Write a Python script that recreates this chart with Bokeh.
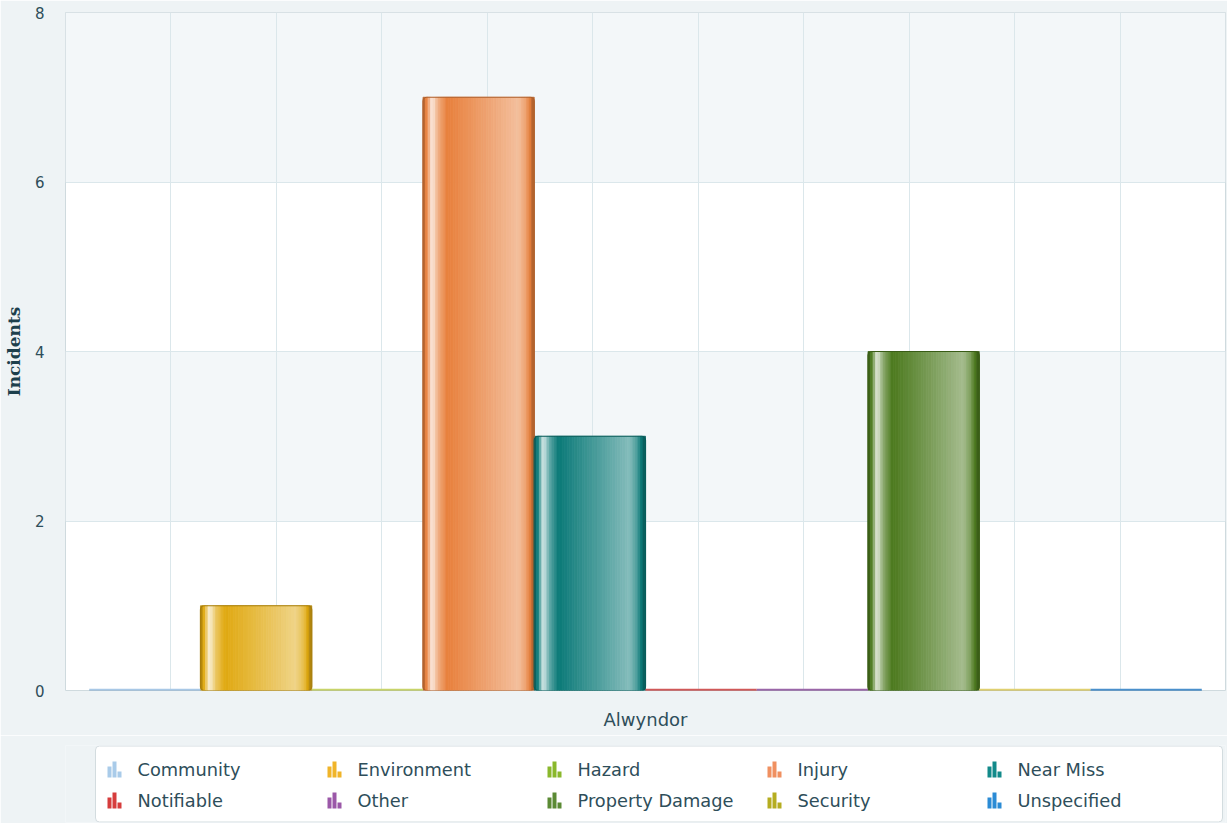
from bokeh.plotting import figure
from bokeh.models import Range1d, FixedTicker, ColumnDataSource
from bokeh.layouts import column
from bokeh.core.properties import value
from bokeh.embed import file_html
from bokeh.resources import INLINE

# ---- data ----
site = "Alwyndor"
categories = ["Community", "Environment", "Hazard", "Injury", "Near Miss",
              "Notifiable", "Other", "Property Damage", "Security", "Unspecified"]
incidents = [0, 1, 0, 7, 3, 0, 0, 4, 0, 0]
bar_colors = ["#a8c8e6", "#e0a911", "#c8d46a", "#e8803c", "#0b7a78",
              "#d05858", "#9a66a8", "#4c7a1e", "#e0d070", "#4a90cc"]
icon_colors = ["#a9cbe9", "#f0b429", "#8ab82c", "#f09060", "#128a8a",
               "#d63c3c", "#9b58a8", "#5b8a34", "#b5ad20", "#2b8bd5"]
y_ticks = [0, 2, 4, 6, 8]
y_title = "Incidents"

PAGE_BG = "#eef3f5"
TXT = "#2e4e5a"

def hex2rgb(h):
    h = h.lstrip("#")
    return tuple(int(h[i:i + 2], 16) for i in (0, 2, 4))

def rgb2hex(c):
    return "#%02x%02x%02x" % tuple(max(0, min(255, int(round(v)))) for v in c)

def shade(h, m):
    r = hex2rgb(h)
    if m >= 0:
        return rgb2hex([v + (255 - v) * m for v in r])
    return rgb2hex([v * (1 + m) for v in r])

profile = [(0.0, -0.3), (0.04, 0.1), (0.085, 0.85), (0.14, 0.35), (0.22, 0.0),
           (0.55, 0.25), (0.86, 0.5), (0.93, 0.25), (1.0, -0.3)]

def prof(t):
    for (t0, m0), (t1, m1) in zip(profile[:-1], profile[1:]):
        if t0 <= t <= t1:
            return m0 + (m1 - m0) * (t - t0) / (t1 - t0)
    return profile[-1][1]

# ---- main chart ----
p = figure(width=1227, height=735, output_backend="svg", toolbar_location=None,
           x_range=Range1d(0, 11), y_range=Range1d(0, 8),
           min_border_left=0, min_border_right=2, min_border_top=12, min_border_bottom=45)
p.border_fill_color = PAGE_BG
p.background_fill_color = "white"
p.outline_line_color = "#cfdade"

n = len(categories)
bw = 1.055
centers = [5.5 + (i - (n - 1) / 2) * bw for i in range(n)]

# cylinder-like shading strips
N = 44
L, R, T, B, C = [], [], [], [], []
for i, v in enumerate(incidents):
    if v <= 0:
        continue
    left = centers[i] - bw / 2
    for k in range(N):
        t = (k + 0.5) / N
        L.append(left + bw * k / N)
        R.append(left + bw * (k + 1) / N)
        T.append(v)
        B.append(0)
        C.append(shade(bar_colors[i], prof(t)))
p.quad(left=L, right=R, top=T, bottom=B, fill_color=C, line_color=C, line_width=0.8)

src = ColumnDataSource(dict(x=centers, top=incidents,
                            line=[shade(c, -0.25) for c in bar_colors]))
p.vbar(x="x", top="top", width=bw, source=src, fill_color=None,
       line_color="line", line_width=1.2, border_radius=4)
zero = ColumnDataSource(dict(x=[c for c, v in zip(centers, incidents) if v == 0],
                             col=[bc for bc, v in zip(bar_colors, incidents) if v == 0]))
p.vbar(x="x", top=0, width=bw, source=zero, fill_color=None, line_color="col",
       line_width=3.5)

p.xaxis.ticker = FixedTicker(ticks=[5.5])
p.xaxis.major_label_overrides = {5.5: site}
p.yaxis.ticker = FixedTicker(ticks=y_ticks)
p.xgrid.ticker = FixedTicker(ticks=list(range(12)))
p.ygrid.ticker = FixedTicker(ticks=y_ticks)
p.grid.grid_line_color = "#dbe7eb"
p.ygrid.band_fill_color = "#f3f7f9"
p.ygrid.band_fill_alpha = 1
p.ygrid.level = "image"

for ax in (p.xaxis, p.yaxis):
    ax.major_tick_out = 0
    ax.major_tick_in = 0
    ax.minor_tick_out = 0
    ax.minor_tick_in = 0
    ax.axis_line_color = None
    ax.major_label_text_font = "DejaVu Sans"
    ax.major_label_text_color = TXT
p.yaxis.major_label_text_font_size = "15px"
p.yaxis.major_label_standoff = 21
p.xaxis.major_label_text_font_size = "18px"
p.xaxis.major_label_standoff = 18
p.yaxis.axis_label = y_title
p.yaxis.axis_label_text_font = "DejaVu Serif"
p.yaxis.axis_label_text_font_style = "bold"
p.yaxis.axis_label_text_font_size = "17px"
p.yaxis.axis_label_text_color = "#1d3f4c"
p.yaxis.axis_label_standoff = 8

# ---- legend panel (frame aligned with the chart frame) ----
leg = figure(width=1227, height=88, output_backend="svg", toolbar_location=None,
             x_range=Range1d(0, 1160), y_range=Range1d(77, 0),
             min_border_left=65, min_border_right=2, min_border_top=10, min_border_bottom=1)
leg.border_fill_color = PAGE_BG
leg.background_fill_color = PAGE_BG
leg.outline_line_color = None
leg.axis.visible = False
leg.grid.visible = False
# white legend box
leg.quad(left=[30], right=[1157], top=[0.5], bottom=[76.5], fill_color="white",
         line_color="#d3dcdf", border_radius=4)

ncol = 5
col_w = 220
row_h = 31
ix, iy = [], []
for j, name in enumerate(categories):
    r, c = divmod(j, ncol)
    ix.append(42 + c * col_w)
    iy.append(24 + r * row_h)
# mini bar-chart icons: three bars per entry
heights = [11, 16, 6]
for b, h in enumerate(heights):
    lefts = [x + b * 5 for x in ix]
    leg.quad(left=lefts, right=[l + 4 for l in lefts],
             top=[y + 8 - h for y in iy], bottom=[y + 8 for y in iy],
             fill_color=icon_colors, line_color=None)
leg.text(x=[x + 30 for x in ix], y=iy, text=categories,
         text_font=value("DejaVu Sans"), text_font_size="17.8px",
         text_color=TXT, text_baseline="middle", text_align="left")

layout = column(p, leg, spacing=0)
open("out.html", "w").write(file_html(layout, INLINE))
